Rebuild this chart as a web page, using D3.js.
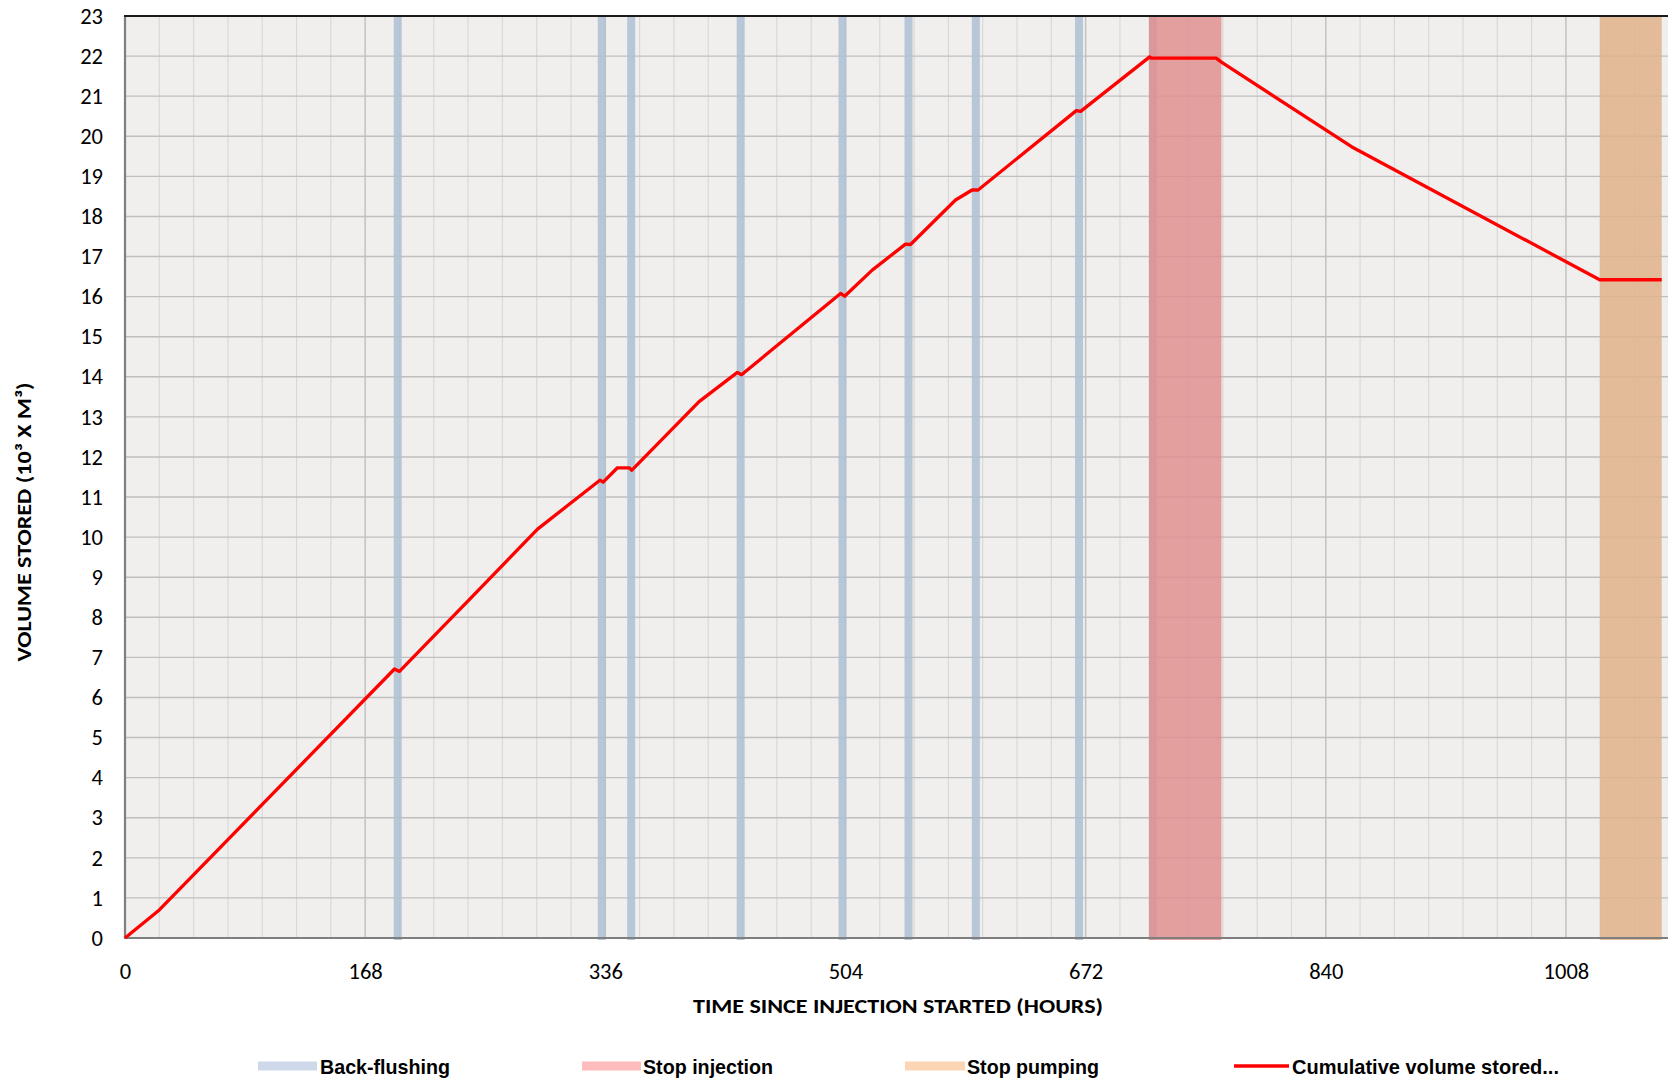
<!DOCTYPE html>
<html>
<head>
<meta charset="utf-8">
<script src="https://cdn.jsdelivr.net/npm/d3@7"></script>
<style>
  html, body { margin: 0; padding: 0; background: #ffffff; }
  svg { display: block; }
</style>
</head>
<body>
<svg id="chart" width="1668" height="1082"></svg>
<script>
// Cumulative volume stored (10^3 m^3) against hours since injection started
const timeHours = [0, 24, 188.5, 192, 239.5, 288.6, 332.2, 334.5, 344.5, 352.7, 354.6,
  401.6, 428.4, 431.3, 500.6, 503.4, 522.7, 546, 549.5, 581, 592.6, 596.8,
  665.5, 668.5, 716.8, 718, 763.3, 767, 858, 1031.6, 1075];
const volumeStored = [0, 0.70, 6.71, 6.65, 8.39, 10.20, 11.42, 11.37, 11.73, 11.73, 11.67,
  13.38, 14.11, 14.05, 16.08, 16.01, 16.66, 17.31, 17.30, 18.41, 18.66, 18.66,
  20.64, 20.62, 21.98, 21.95, 21.95, 21.85, 19.74, 16.42, 16.42];

// Event periods (hours)
const backFlushHours = [190.8, 333.5, 354.1, 430.7, 501.9, 548.1, 595.2, 667.4, 719.0];
const backFlushDuration = 5.6;
const stopInjection = [716.3, 767.0];
const stopPumping = [1031.7, 1075.0];

// Axes
const xTickValues = [0, 168, 336, 504, 672, 840, 1008];
const yTickValues = d3.range(0, 24);
const xMax = 1078;
const yMax = 23;

const legendLabels = ["Back-flushing", "Stop injection", "Stop pumping", "Cumulative volume stored..."];

const svg = d3.select("#chart");
const plot = { left: 125, right: 1666, top: 16, bottom: 938 };

const x = d3.scaleLinear().domain([0, xMax]).range([plot.left, plot.right]);
const y = d3.scaleLinear().domain([0, yMax]).range([plot.bottom, plot.top]);

const tickFont = "Carlito, Calibri, Lato, 'Open Sans', sans-serif";
const legendFont = "'Liberation Sans Narrow', 'Arial Narrow', 'Liberation Sans', Arial, sans-serif";

// soft edges for the event bands
const defs = svg.append("defs");
defs.append("filter").attr("id", "soft")
  .attr("x", "-50%").attr("width", "200%").attr("y", "0%").attr("height", "100%")
  .append("feGaussianBlur").attr("stdDeviation", "0.7 0");

// plot background
svg.append("rect")
  .attr("x", plot.left).attr("y", plot.top)
  .attr("width", plot.right - plot.left + 2).attr("height", plot.bottom - plot.top)
  .attr("fill", "#f0efed");

// vertical gridlines: daily (light) and weekly (darker)
const dayLines = d3.range(24, xMax, 24);
svg.append("g").selectAll("line")
  .data(dayLines.filter(h => h % 168 !== 0))
  .join("line")
  .attr("x1", d => x(d)).attr("x2", d => x(d))
  .attr("y1", plot.top).attr("y2", plot.bottom)
  .attr("stroke", "#d9d9d9").attr("stroke-width", 1.2);
svg.append("g").selectAll("line")
  .data(dayLines.filter(h => h % 168 === 0))
  .join("line")
  .attr("x1", d => x(d)).attr("x2", d => x(d))
  .attr("y1", plot.top).attr("y2", plot.bottom)
  .attr("stroke", "#bfbfbf").attr("stroke-width", 1.4);

// horizontal gridlines
svg.append("g").selectAll("line")
  .data(yTickValues.filter(v => v > 0 && v < yMax))
  .join("line")
  .attr("x1", plot.left).attr("x2", plot.right + 2)
  .attr("y1", d => y(d)).attr("y2", d => y(d))
  .attr("stroke", "#bfbfbf").attr("stroke-width", 1.4);

// event bands
const bands = svg.append("g");
bands.selectAll("rect.bf")
  .data(backFlushHours)
  .join("rect")
  .attr("class", "bf")
  .attr("x", d => x(d - backFlushDuration / 2))
  .attr("width", d => x(d + backFlushDuration / 2) - x(d - backFlushDuration / 2))
  .attr("y", plot.top).attr("height", plot.bottom - plot.top + 2)
  .attr("fill", "rgb(175,193,212)").attr("fill-opacity", 0.88)
  .attr("filter", "url(#soft)");
bands.append("rect")
  .attr("x", x(stopInjection[0])).attr("width", x(stopInjection[1]) - x(stopInjection[0]))
  .attr("y", plot.top).attr("height", plot.bottom - plot.top + 2)
  .attr("fill", "rgb(225,143,145)").attr("fill-opacity", 0.85)
  .attr("filter", "url(#soft)");
bands.append("rect")
  .attr("x", x(stopPumping[0])).attr("width", x(stopPumping[1]) - x(stopPumping[0]))
  .attr("y", plot.top).attr("height", plot.bottom - plot.top + 2)
  .attr("fill", "rgb(224,179,137)").attr("fill-opacity", 0.85)
  .attr("filter", "url(#soft)");

// axis lines
svg.append("line")
  .attr("x1", plot.left).attr("x2", plot.right + 2)
  .attr("y1", plot.bottom).attr("y2", plot.bottom)
  .attr("stroke", "#7f7f7f").attr("stroke-width", 2.2);
svg.append("line")
  .attr("x1", plot.left).attr("x2", plot.left)
  .attr("y1", plot.top).attr("y2", plot.bottom + 1)
  .attr("stroke", "#7f7f7f").attr("stroke-width", 2.2);
svg.append("line")
  .attr("x1", plot.left - 1).attr("x2", 1668)
  .attr("y1", plot.top).attr("y2", plot.top)
  .attr("stroke", "#1a1a1a").attr("stroke-width", 1.8);

// cumulative volume line
const series = timeHours.map((t, i) => [t, volumeStored[i]]);
svg.append("path")
  .datum(series)
  .attr("fill", "none")
  .attr("stroke", "#ff0000")
  .attr("stroke-width", 3.3)
  .attr("stroke-linejoin", "round")
  .attr("stroke-linecap", "butt")
  .attr("d", d3.line().x(d => x(d[0])).y(d => y(d[1])));

// y tick labels
const yAxis = d3.axisLeft(y).tickValues(yTickValues).tickSize(0).tickFormat(d3.format("d"));
const gy = svg.append("g").attr("transform", `translate(${plot.left},0)`).call(yAxis);
gy.select(".domain").remove();
gy.selectAll("text")
  .attr("font-family", tickFont).attr("font-size", 22.5).attr("fill", "#000")
  .attr("x", 103 - plot.left);

// x tick labels
const xAxis = d3.axisBottom(x).tickValues(xTickValues).tickSize(0).tickFormat(d3.format("d"));
const gx = svg.append("g").attr("transform", `translate(0,${plot.bottom})`).call(xAxis);
gx.select(".domain").remove();
gx.selectAll("text")
  .attr("font-family", tickFont).attr("font-size", 22.5).attr("fill", "#000")
  .attr("dy", null).attr("y", 40.5);

// axis titles
svg.append("text")
  .attr("x", 898).attr("y", 1013)
  .attr("text-anchor", "middle")
  .attr("font-family", tickFont).attr("font-weight", 900).attr("font-size", 20)
  .attr("textLength", 410).attr("lengthAdjust", "spacingAndGlyphs")
  .text("TIME SINCE INJECTION STARTED (HOURS)");

svg.append("text")
  .attr("transform", "translate(31,522) rotate(-90)")
  .attr("text-anchor", "middle")
  .attr("font-family", tickFont).attr("font-weight", 900).attr("font-size", 20)
  .attr("textLength", 279).attr("lengthAdjust", "spacingAndGlyphs")
  .text("VOLUME STORED (10³ X M³)");

// legend
const legendItems = [
  { label: legendLabels[0], kind: "band", color: "#cdd9ea", x0: 258, x1: 317, tx: 320, tw: 130 },
  { label: legendLabels[1], kind: "band", color: "#ffbcbc", x0: 582, x1: 641, tx: 643, tw: 130 },
  { label: legendLabels[2], kind: "band", color: "#fcd5b5", x0: 905, x1: 965, tx: 967, tw: 132 },
  { label: legendLabels[3], kind: "line", color: "#ff0000", x0: 1234, x1: 1289, tx: 1292, tw: 267 }
];
const lg = svg.append("g");
const legendY = 1066;
legendItems.forEach(it => {
  if (it.kind === "band") {
    lg.append("rect").attr("x", it.x0).attr("y", legendY - 4.5)
      .attr("width", it.x1 - it.x0).attr("height", 9).attr("fill", it.color);
  } else {
    lg.append("line").attr("x1", it.x0).attr("x2", it.x1)
      .attr("y1", legendY).attr("y2", legendY)
      .attr("stroke", it.color).attr("stroke-width", 3.5);
  }
  lg.append("text")
    .attr("x", it.tx).attr("y", legendY + 7.5)
    .attr("font-family", legendFont).attr("font-weight", "bold").attr("font-size", 21)
    .attr("textLength", it.tw).attr("lengthAdjust", "spacingAndGlyphs")
    .attr("fill", "#000")
    .text(it.label);
});
</script>
</body>
</html>
